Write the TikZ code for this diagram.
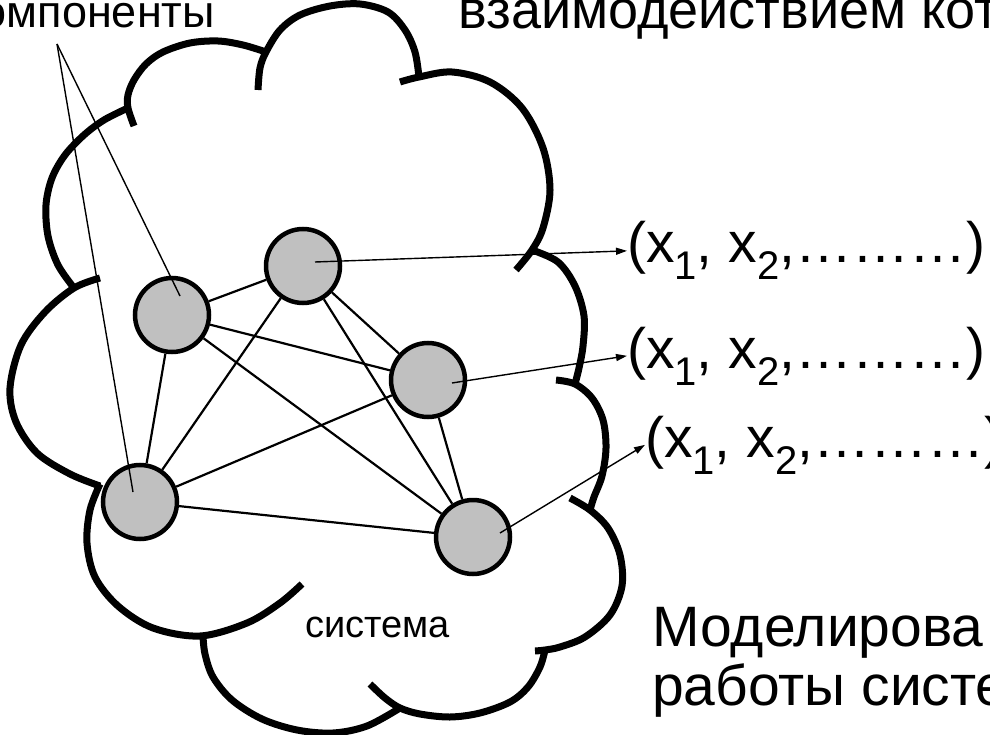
\documentclass[tikz,border=0pt]{standalone}
\usepackage{fontspec}
\setmainfont{Liberation Sans}
\usetikzlibrary{arrows.meta, calc}
\definecolor{nodegray}{RGB}{192,192,192}
\newcommand{\xsub}[1]{\raisebox{-17pt}{\fontsize{40}{40}\selectfont #1}}
\tikzset{
  puff/.style={line width=7pt},
  part/.style={circle, draw, line width=4.5pt, fill=nodegray, minimum size=74pt, inner sep=0pt},
  link/.style={line width=2.2pt},
  pointer/.style={line width=1.4pt},
  feed/.style={line width=1.4pt, -{Triangle[length=11pt, width=7pt]}},
  bigtext/.style={font=\fontsize{57}{59}\selectfont, inner sep=0pt},
  smalltext/.style={font=\fontsize{38}{40}\selectfont, inner sep=0pt},
}

\begin{document}
\begin{tikzpicture}[x=1pt, y=-1pt]
  \useasboundingbox (0,0) rectangle (990,735);
  \clip (0,0) rectangle (990,735);
  % cloud outline, one puff at a time (clockwise from the left)
  \draw[puff] plot[smooth, tension=0.55] coordinates {(74,288) (58,265) (48,236) (46,205) (52,178) (65,155) (84,135) (104,120) (128,108)};
  \draw[puff] plot[smooth, tension=0.55] coordinates {(134,126) (128,108) (128,95) (134,80) (146,64) (163,52) (190,43) (218,41) (243,45) (266,52)};
  \draw[puff] plot[smooth, tension=0.55] coordinates {(258,90) (260,68) (266,52) (280,30) (300,15) (330,6) (360,4) (388,12) (405,30) (415,52) (419,77)};
  \draw[puff] plot[smooth, tension=0.55] coordinates {(400,82) (419,77) (452,72) (490,82) (522,108) (543,148) (550,190) (543,228) (532,250) (516,270)};
  \draw[puff] plot[smooth, tension=0.55] coordinates {(532,250) (558,262) (575,286) (584,316) (583,346) (579,368) (575,384)};
  \draw[puff] plot[smooth, tension=0.55] coordinates {(556,380) (575,384) (592,398) (603,420) (606,448) (602,476) (594,497) (590,510)};
  \draw[puff] plot[smooth, tension=0.55] coordinates {(570,498) (590,510) (608,528) (620,555) (622,586) (610,615) (585,637) (560,647) (545,650) (535,651)};
  \draw[puff] plot[smooth, tension=0.55] coordinates {(545,650) (540,667) (528,687) (510,702) (480,713) (450,717) (420,714) (400,708) (385,698) (370,684)};
  \draw[puff] plot[smooth, tension=0.55] coordinates {(203,636) (205,654) (213,677) (232,700) (262,719) (297,730) (333,733) (367,726) (400,708)};
  \draw[puff] plot[smooth, tension=0.55] coordinates {(100,484) (90,510) (87,543) (95,577) (118,606) (153,628) (200,636) (247,623) (280,603) (302,584)};
  \draw[puff] plot[smooth, tension=0.55] coordinates {(100,278) (74,288) (45,312) (21,345) (10,388) (16,422) (37,453) (70,474) (100,486)};

  % components of the system
  \node[part] (A) at (172,315) {};
  \node[part] (B) at (303,266) {};
  \node[part] (C) at (428,380) {};
  \node[part] (D) at (140,502) {};
  \node[part] (E) at (473,537) {};
  \foreach \a/\b in {A/B, A/C, A/D, A/E, B/C, B/D, B/E, C/D, C/E, D/E}
    \draw[link] (\a) -- (\b);

  % texts
  \node[smalltext, font=\fontsize{45}{47}\selectfont, anchor=base east] (parts) at (215,28) {омпоненты};
  \node[bigtext, font=\fontsize{54}{56}\selectfont, anchor=base west] (task) at (458,29) {взаимодействием кот};
  \node[bigtext, anchor=base west] (r1) at (627,263) {(x\xsub{1}, x\xsub{2},………)};
  \node[bigtext, anchor=base west] (r2) at (627,368) {(x\xsub{1}, x\xsub{2},………)};
  \node[bigtext, anchor=base west] (r3) at (645,457) {(x\xsub{1}, x\xsub{2},………)};
  \node[smalltext, anchor=base west] (sys) at (305,637) {система};
  \node[bigtext, anchor=base west] (model) at (652,646) {Моделирова};
  \node[bigtext, anchor=base west] (run) at (652,705) {работы систе};

  % pointers from the label and outputs of the components
  \coordinate (kp) at (57,44);
  \draw[pointer] (kp) -- ($(A)+(8,-19)$);
  \draw[pointer] (kp) -- ($(D)+(-7,-10)$);
  \draw[feed] ($(B)+(12,-4)$) -- (r1.west);
  \draw[feed] ($(C)+(24,3)$) -- (r2.west);
  \draw[feed] ($(E)+(27,-4)$) -- (r3.west);
\end{tikzpicture}
\end{document}
